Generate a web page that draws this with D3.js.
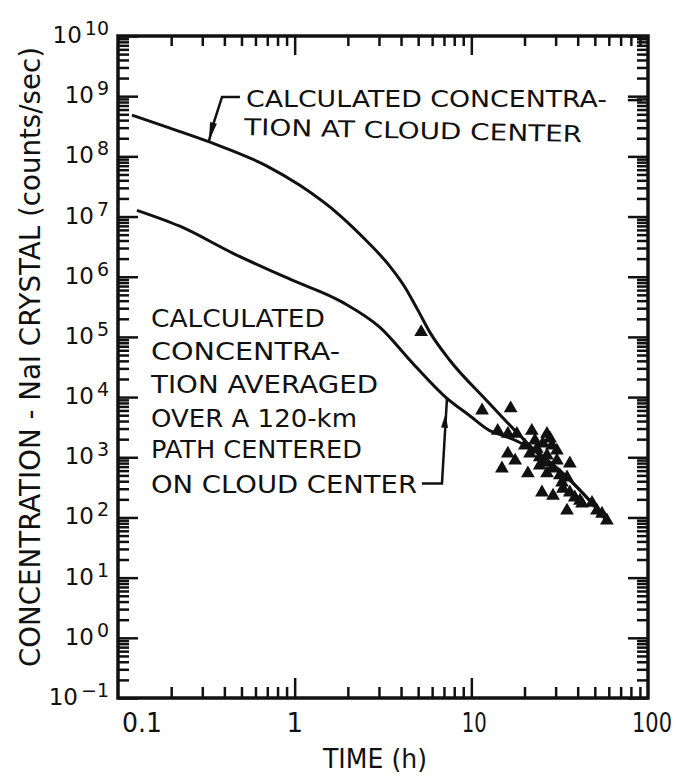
<!DOCTYPE html>
<html>
<head>
<meta charset="utf-8">
<script src="https://cdn.jsdelivr.net/npm/d3@7"></script>
<style>
  body { margin: 0; background: #fff; }
  svg { display: block; }
  text { font-family: "DejaVu Sans", sans-serif; fill: #111; }
</style>
</head>
<body>
<svg id="chart" width="684" height="776"></svg>
<script>
// calculated concentration at cloud center (time in h, counts/sec)
const centerTime = [0.12, 0.197, 0.332, 0.697, 1.07, 1.80, 2.50, 3.46, 4.21, 4.99, 5.83, 7.57, 12.2, 18.8, 23.5, 31.7, 44.0, 58.5];
const centerConc = [4.85e8, 2.95e8, 1.72e8, 6.9e7, 3.3e7, 1.05e7, 4.19e6, 1.49e6, 6.7e5, 2.76e5, 1.19e5, 4.06e4, 8.8e3, 2.3e3, 1.2e3, 600, 231, 88];

// calculated concentration averaged over a 120-km path
const avgTime = [0.128, 0.224, 0.448, 0.94, 1.87, 3.04, 4.67, 7.28, 9.8, 12.7, 15.1, 18.8, 23.5, 31.7, 44.0, 58.5];
const avgConc = [1.27e7, 6.9e6, 2.45e6, 9.1e5, 3.75e5, 1.44e5, 3.62e4, 9.5e3, 4.9e3, 2.78e3, 2.3e3, 1.76e3, 1.2e3, 600, 231, 88];

// measured points (triangles)
const obsTime = [5.2, 11.5, 16.7, 14.1, 16.1, 18.1, 22.0, 26.8, 27.9, 25.4, 28.6, 30.5, 23.5, 21.5, 16.1, 17.7, 14.9, 20.9, 24.4, 26.8,
                 28.6, 31.7, 36.1, 34.8, 32.6, 25.1, 29.0, 36.1, 38.5, 34.8, 42.3, 48.2, 51.4, 54.9, 58.5, 26.8, 24.4,
                 26.1, 22.9, 20.1, 30.5, 33.0, 41.2];
const obsConc = [1.2e5, 6.0e3, 6.5e3, 2.75e3, 2.45e3, 2.45e3, 2.75e3, 2.45e3, 2.04e3, 1.69e3, 1.56e3, 1.29e3, 1.38e3, 1.15e3, 1.15e3, 880, 650, 540, 730, 540,
                 650, 500, 790, 460, 380, 260, 230, 260, 215, 130, 170, 175, 130, 115, 89, 1.07e3, 1.0e3,
                 817, 1.9e3, 1.57e3, 880, 301, 190];

// axis ticks
const xLabelVals = [0.1, 1, 10, 100];
const xLabelText = ['0.1', '1', '10', '100'];
const yExponents = [-1, 0, 1, 2, 3, 4, 5, 6, 7, 8, 9, 10];
const yExpText = ['\u2212' + '1', '0', '1', '2', '3', '4', '5', '6', '7', '8', '9', '10'];

const svg = d3.select('#chart');

const x = d3.scaleLog().domain([0.1, 100]).range([118, 648]);
const y = d3.scaleLog().domain([0.1, 1e10]).range([698, 36]);

// major / minor tick values
const yMajor = yExponents.map(n => Math.pow(10, n));
const yMinor = [];
for (let n = -1; n < 10; n++)
    for (let k = 2; k <= 9; k++) yMinor.push(+(k + 'e' + n));
const xMajor = [1, 10];
const xMinor = [];
for (let n = -1; n < 2; n++)
    for (let k = 2; k <= 9; k++) xMinor.push(+(k + 'e' + n));

function tickAxis(gen, tx, ty, vals, size) {
    svg.append('g')
        .attr('transform', `translate(${tx},${ty})`)
        .call(gen.tickValues(vals).tickSize(-size).tickFormat(''))
        .call(g => g.select('.domain').remove())
        .call(g => g.selectAll('line').attr('stroke', '#111').attr('stroke-width', 2.5));
}
tickAxis(d3.axisLeft(y), x.range()[0], 0, yMajor, 20);
tickAxis(d3.axisLeft(y), x.range()[0], 0, yMinor, 11);
tickAxis(d3.axisRight(y), x.range()[1], 0, yMajor, 20);
tickAxis(d3.axisRight(y), x.range()[1], 0, yMinor, 11);
tickAxis(d3.axisTop(x), 0, y.range()[1], xMajor, 19);
tickAxis(d3.axisTop(x), 0, y.range()[1], xMinor, 10);
tickAxis(d3.axisBottom(x), 0, y.range()[0], xMajor, 20);
tickAxis(d3.axisBottom(x), 0, y.range()[0], xMinor, 11);

// frame
svg.append('rect')
    .attr('x', x.range()[0]).attr('y', y.range()[1])
    .attr('width', x.range()[1] - x.range()[0])
    .attr('height', y.range()[0] - y.range()[1])
    .attr('fill', 'none').attr('stroke', '#111').attr('stroke-width', 3.5);

// y tick labels: 10 with superscript exponent
yExponents.forEach((n, i) => {
    const ty = y(Math.pow(10, n));
    const ex = svg.append('text')
        .attr('x', 109).attr('y', ty - 1)
        .attr('text-anchor', 'end')
        .attr('font-size', 19)
        .text(yExpText[i]);
    const w = ex.node().getComputedTextLength();
    svg.append('text')
        .attr('x', 109 - w - 3).attr('y', ty + 7)
        .attr('text-anchor', 'end')
        .attr('font-size', 23)
        .text('10');
});

// x tick labels
const xLabelShift = [24, 0, 3, 4];
const xLabelLen = [40, 0, 25, 40];
xLabelVals.forEach((v, i) => {
    const t = svg.append('text')
        .attr('x', x(v) + xLabelShift[i]).attr('y', 732)
        .attr('text-anchor', 'middle')
        .attr('font-size', 26)
        .text(xLabelText[i]);
    if (xLabelLen[i]) t.attr('textLength', xLabelLen[i]).attr('lengthAdjust', 'spacingAndGlyphs');
});

// axis titles
svg.append('text')
    .attr('x', 375).attr('y', 768)
    .attr('text-anchor', 'middle')
    .attr('font-size', 27)
    .attr('textLength', 104).attr('lengthAdjust', 'spacingAndGlyphs')
    .text('TIME (h)');

svg.append('text')
    .attr('transform', 'translate(40,357) rotate(-90)')
    .attr('text-anchor', 'middle')
    .attr('font-size', 28)
    .attr('textLength', 620).attr('lengthAdjust', 'spacingAndGlyphs')
    .text('CONCENTRATION - NaI CRYSTAL (counts/sec)');

// curves
const line = d3.line()
    .x(d => x(d[0]))
    .y(d => y(d[1]))
    .curve(d3.curveMonotoneX);

svg.append('path')
    .attr('d', line(d3.zip(centerTime, centerConc)))
    .attr('fill', 'none').attr('stroke', '#111').attr('stroke-width', 3);
svg.append('path')
    .attr('d', line(d3.zip(avgTime, avgConc)))
    .attr('fill', 'none').attr('stroke', '#111').attr('stroke-width', 3);

// observations
const tri = d3.symbol().type(d3.symbolTriangle).size(82);
svg.append('g')
    .selectAll('path')
    .data(d3.zip(obsTime, obsConc))
    .join('path')
    .attr('transform', d => `translate(${x(d[0])},${y(d[1])})`)
    .attr('d', tri)
    .attr('fill', '#111');

// annotation leaders (in data units)
const leaderTop = [[0.49, 9.7e8], [0.388, 9.7e8], [0.345, 3.3e8], [0.327, 1.79e8]];
const leaderLow = [[5.25, 366], [6.82, 366], [7.28, 9.5e3]];
const leaderDash = [[76.9, 8.6e8], [92.3, 8.6e8]];

const straight = d3.line().x(d => x(d[0])).y(d => y(d[1]));
[leaderTop, leaderLow, leaderDash].forEach(pts => {
    svg.append('path')
        .attr('d', straight(pts))
        .attr('fill', 'none').attr('stroke', '#111').attr('stroke-width', 2.5);
});

// narrow arrowheads
function arrowHead(from, tip) {
    const x0 = x(from[0]), y0 = y(from[1]), x1 = x(tip[0]), y1 = y(tip[1]);
    const dx = x1 - x0, dy = y1 - y0, len = Math.hypot(dx, dy);
    const nx = -dy / len * 3.5, ny = dx / len * 3.5;
    svg.append('path')
        .attr('d', `M${x1},${y1}L${x0 + nx},${y0 + ny}L${x0 - nx},${y0 - ny}Z`)
        .attr('fill', '#111');
}
arrowHead([0.347, 3.6e8], [0.327, 1.79e8]);
arrowHead([7.05, 3.1e3], [7.15, 5.3e3]);

// annotation text
const topLines = ['CALCULATED CONCENTRA-', 'TION AT CLOUD CENTER'];
svg.append('text').attr('x', 246).attr('y', 107).attr('font-size', 23)
    .attr('textLength', 361).attr('lengthAdjust', 'spacingAndGlyphs').text(topLines[0]);
svg.append('text').attr('x', 244).attr('y', 135).attr('font-size', 23)
    .attr('transform', 'rotate(1.2,244,135)')
    .attr('textLength', 338).attr('lengthAdjust', 'spacingAndGlyphs').text(topLines[1]);

const leftLines = ['CALCULATED', 'CONCENTRA-', 'TION AVERAGED', 'OVER A 120-km', 'PATH CENTERED', 'ON CLOUD CENTER'];
const leftBase = [327, 360, 393, 427, 458, 493];
const leftLen = [174, 189, 227, 206, 211, 266];
leftLines.forEach((s, i) => {
    svg.append('text').attr('x', 151).attr('y', leftBase[i]).attr('font-size', 24)
        .attr('textLength', leftLen[i]).attr('lengthAdjust', 'spacingAndGlyphs').text(s);
});
</script>
</body>
</html>
